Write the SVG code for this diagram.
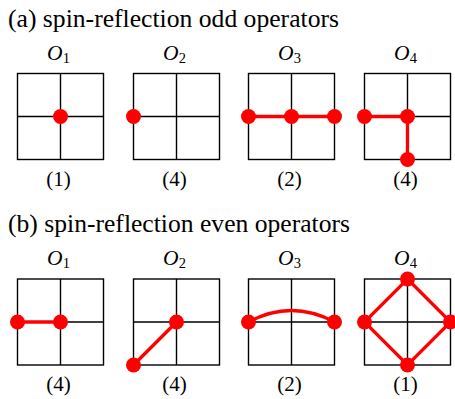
<svg xmlns="http://www.w3.org/2000/svg" width="455" height="399" viewBox="0 0 455 399">
<style>
text{font-family:"Liberation Serif","Times New Roman",serif;fill:#000}
.t{font-size:24.5px}
.o{font-size:21.5px;font-style:italic}
.s{font-size:14.5px;font-style:normal}
.c{font-size:21px}
.g{fill:none;stroke:#000;stroke-width:1.4}
.e{fill:none;stroke:#f00;stroke-width:3.3}
.d{fill:#f00}
</style>
<defs>
<g id="grid"><rect class="g" x="0" y="0" width="86" height="86"/><path class="g" d="M43 0V86M0 43H86"/></g>
</defs>
<rect width="455" height="399" fill="#fff"/>
<text class="t" x="8" y="26.5" textLength="331" lengthAdjust="spacingAndGlyphs">(a) spin-reflection odd operators</text>
<text class="t" x="8" y="231.5" textLength="342" lengthAdjust="spacingAndGlyphs">(b) spin-reflection even operators</text>

<g id="a1">
<use href="#grid" x="17.5" y="73.5"/>
<text class="o" x="58.5" y="60" text-anchor="middle">O<tspan class="s" dy="2.7">1</tspan></text>
<circle class="d" cx="60.5" cy="116.5" r="7.5"/>
<text class="c" x="58.5" y="186" text-anchor="middle">(1)</text>
</g>
<g id="a2">
<use href="#grid" x="133.5" y="73.5"/>
<text class="o" x="174.5" y="60" text-anchor="middle">O<tspan class="s" dy="2.7">2</tspan></text>
<circle class="d" cx="133.5" cy="116.5" r="7.5"/>
<text class="c" x="174.5" y="186" text-anchor="middle">(4)</text>
</g>
<g id="a3">
<use href="#grid" x="248.5" y="73.5"/>
<text class="o" x="289.5" y="60" text-anchor="middle">O<tspan class="s" dy="2.7">3</tspan></text>
<path class="e" d="M248.5 116.5H334.5"/>
<circle class="d" cx="248.5" cy="116.5" r="7.5"/>
<circle class="d" cx="291.5" cy="116.5" r="7.5"/>
<circle class="d" cx="334.5" cy="116.5" r="7.5"/>
<text class="c" x="289.5" y="186" text-anchor="middle">(2)</text>
</g>
<g id="a4">
<use href="#grid" x="364.5" y="73.5"/>
<text class="o" x="405.5" y="60" text-anchor="middle">O<tspan class="s" dy="2.7">4</tspan></text>
<path class="e" d="M364.5 116.5H407.5V159.5"/>
<circle class="d" cx="364.5" cy="116.5" r="7.5"/>
<circle class="d" cx="407.5" cy="116.5" r="7.5"/>
<circle class="d" cx="407.5" cy="159.5" r="7.5"/>
<text class="c" x="405.5" y="186" text-anchor="middle">(4)</text>
</g>

<g id="b1">
<use href="#grid" x="17.5" y="279"/>
<text class="o" x="58.5" y="265" text-anchor="middle">O<tspan class="s" dy="2.7">1</tspan></text>
<path class="e" d="M17.5 322H60.5"/>
<circle class="d" cx="17.5" cy="322" r="7.5"/>
<circle class="d" cx="60.5" cy="322" r="7.5"/>
<text class="c" x="58.5" y="391" text-anchor="middle">(4)</text>
</g>
<g id="b2">
<use href="#grid" x="133.5" y="279"/>
<text class="o" x="174.5" y="265" text-anchor="middle">O<tspan class="s" dy="2.7">2</tspan></text>
<path class="e" d="M133.5 365L176.5 322"/>
<circle class="d" cx="133.5" cy="365" r="7.5"/>
<circle class="d" cx="176.5" cy="322" r="7.5"/>
<text class="c" x="174.5" y="391" text-anchor="middle">(4)</text>
</g>
<g id="b3">
<use href="#grid" x="248.5" y="279"/>
<text class="o" x="289.5" y="265" text-anchor="middle">O<tspan class="s" dy="2.7">3</tspan></text>
<path class="e" d="M248.5 322Q291.5 299 334.5 322"/>
<circle class="d" cx="248.5" cy="322" r="7.5"/>
<circle class="d" cx="334.5" cy="322" r="7.5"/>
<text class="c" x="289.5" y="391" text-anchor="middle">(2)</text>
</g>
<g id="b4">
<use href="#grid" x="364.5" y="279"/>
<text class="o" x="405.5" y="265" text-anchor="middle">O<tspan class="s" dy="2.7">4</tspan></text>
<path class="e" d="M407.5 279L450.5 322L407.5 365L364.5 322Z"/>
<circle class="d" cx="407.5" cy="279" r="7.5"/>
<circle class="d" cx="450.5" cy="322" r="7.5"/>
<circle class="d" cx="407.5" cy="365" r="7.5"/>
<circle class="d" cx="364.5" cy="322" r="7.5"/>
<text class="c" x="405.5" y="391" text-anchor="middle">(1)</text>
</g>
</svg>
